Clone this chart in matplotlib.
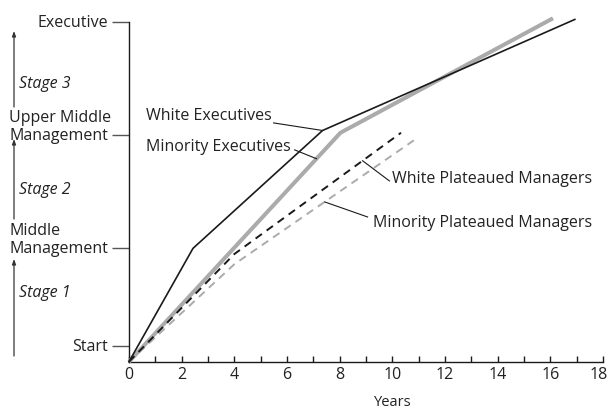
import numpy as np
import matplotlib
matplotlib.use("Agg")
import matplotlib.pyplot as plt
from matplotlib.transforms import ScaledTranslation

plt.rcParams['font.family'] = ['Open Sans', 'DejaVu Sans']

# ---- data ----
level_names = ["Start", "Middle\nManagement", "Upper Middle\nManagement", "Executive"]
level_values = [0.14, 1.0, 2.0, 3.0]

x_ticks = list(range(0, 19))
x_labels = [str(v) if v % 2 == 0 else "" for v in x_ticks]

white_exec_years = [0, 2.43, 7.35, 16.93]
white_exec_level = [0, 1.0, 2.04, 3.02]
minority_exec_years = [0, 8.03, 16.1]
minority_exec_level = [0, 2.02, 3.03]
white_plat_years = [0, 4.0, 10.33]
white_plat_level = [0, 0.95, 2.02]
minority_plat_years = [0, 4.0, 10.86]
minority_plat_level = [0, 0.86, 1.96]

stage_names = ["Stage 1", "Stage 2", "Stage 3"]

FS = 11.5
W, H = 608, 410
fig = plt.figure(figsize=(W / 100, H / 100), dpi=100)
ax = fig.add_axes([129 / W, 1 - 362.7 / H, (603 - 129) / W, (362.7 - 22.7) / H])

GRAY = "#ababab"
INK = "#1a1a1a"
TXT = "#222222"

ax.plot(minority_exec_years, minority_exec_level, color=GRAY, lw=2.9,
        solid_capstyle='butt', clip_on=False, zorder=3)
ax.plot(white_exec_years, white_exec_level, color=INK, lw=1.2, clip_on=False, zorder=4)
ax.plot(white_plat_years, white_plat_level, color=INK, lw=1.4, dashes=(4.0, 3.0),
        clip_on=False, zorder=4)
ax.plot(minority_plat_years, minority_plat_level, color=GRAY, lw=1.4, dashes=(4.0, 3.0),
        clip_on=False, zorder=2)

ax.set_xlim(0, 18)
ax.set_ylim(0, 3.0)
ax.spines['top'].set_visible(False)
ax.spines['right'].set_visible(False)
for s in ('left', 'bottom'):
    ax.spines[s].set_color(INK)
    ax.spines[s].set_linewidth(1.0)

ax.set_xticks(x_ticks)
ax.set_xticklabels(x_labels, fontsize=FS, color=TXT)
ax.tick_params(axis='x', direction='in', length=4, width=1.0, color=INK, pad=3)
last = ax.get_xticklabels()[-1]
last.set_transform(last.get_transform() + ScaledTranslation(-4 / 100, 0, fig.dpi_scale_trans))

ax.set_yticks(level_values)
ax.set_yticklabels([""] * len(level_values))
ax.tick_params(axis='y', direction='out', length=12, width=1.0, color="#555555")

ax.set_xlabel("Years", fontsize=10.5, color=TXT)
ax.xaxis.set_label_coords(10 / 18, -0.095)

# level labels (last line aligned with tick, lines left-aligned)
fig.canvas.draw()
renderer = fig.canvas.get_renderer()
for name, v in zip(level_names, level_values):
    lines = name.split("\n")
    t = ax.annotate(lines[-1], xy=(0, v), xycoords=('axes fraction', 'data'),
                    xytext=(-15, 0), textcoords='offset points', ha='right', va='center',
                    fontsize=FS, color=TXT, annotation_clip=False)
    if len(lines) > 1:
        bb = t.get_window_extent(renderer)
        fig.text(bb.x0 / W, (bb.y0 + bb.y1) / 2 / H + 18 / H, lines[0], fontsize=FS,
                 ha='left', va='center', color=TXT)

# stage arrows (figure pixels from top)
stage_spans = [(357, 260, 293), (220, 140, 190), (108, 32, 84)]
for name, (yb, yt, yc) in zip(stage_names, stage_spans):
    fig.add_artist(matplotlib.patches.FancyArrowPatch(
        (14 / W, 1 - yb / H), (14 / W, 1 - yt / H), transform=fig.transFigure,
        arrowstyle='-|>,head_length=3,head_width=1.1', color="#333333", lw=0.9,
        shrinkA=0, shrinkB=0))
    fig.text(19 / W, 1 - yc / H, name, fontsize=FS, style='italic',
             ha='left', va='center', color=TXT)

# annotations with leader lines
def label(text, tx, ty, lx, ly, years, levels, px):
    py = np.interp(px, years, levels)
    ax.text(tx, ty, text, fontsize=FS, ha='left', va='center', color=TXT)
    ax.plot([lx, px], [ly, py], color=INK, lw=0.8, zorder=5)

label("White Executives", 0.64, 2.177, 5.49, 2.107,
      white_exec_years, white_exec_level, 7.35)
label("Minority Executives", 0.64, 1.904, 6.29, 1.869,
      minority_exec_years, minority_exec_level, 7.12)
label("White Plateaued Managers", 10.0, 1.621, 9.89, 1.595,
      white_plat_years, white_plat_level, 8.87)
label("Minority Plateaued Managers", 9.25, 1.233, 9.06, 1.277,
      minority_plat_years, minority_plat_level, 7.43)

fig.savefig("out.png", dpi=100)
